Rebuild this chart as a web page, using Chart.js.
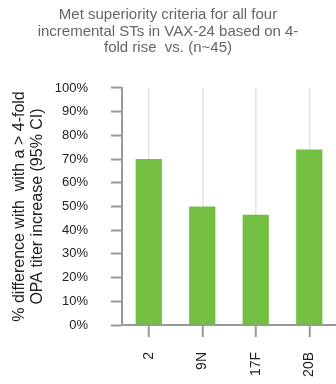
<!DOCTYPE html>
<html><head><meta charset="utf-8">
<script src="https://cdn.jsdelivr.net/npm/chart.js@4/dist/chart.umd.min.js"></script>
<style>html,body{margin:0;padding:0;background:#fff;}#wrap{width:336px;height:384px;}</style>
</head><body><div id="wrap"><canvas id="c" width="336" height="384"></canvas></div>
<script>
const categories = ['2', '9N', '17F', '20B'];
const values = [70, 50, 46.5, 74];
const titleLines = ['Met superiority criteria for all four', 'incremental STs in VAX-24 based on 4-', 'fold rise  vs. (n~45)'];
const yTitleLines = ['% difference with  with a > 4-fold', 'OPA titer increase (95% CI)'];

new Chart(document.getElementById('c'), {
  type: 'bar',
  data: { labels: categories, datasets: [{ data: values, backgroundColor: '#72BF44', barPercentage: 0.49, categoryPercentage: 1 }] },
  options: {
    responsive: false, animation: false,
    layout: { padding: { left: 0, right: 0, top: 0, bottom: 0 } },
    plugins: {
      legend: { display: false }, tooltip: { enabled: false },
      title: { display: true, text: titleLines, color: '#666', font: { family: 'Liberation Sans', size: 15, weight: 'normal', lineHeight: 1.11 }, padding: { top: 6.6, bottom: 31.4 } }
    },
    scales: {
      x: {
        grid: { display: true, drawOnChartArea: true, offset: false, color: '#e3e3e3', lineWidth: 1.5, tickColor: '#999', tickLength: 12, tickWidth: 2 },
        border: { display: true, color: '#999', width: 2 },
        ticks: { minRotation: 90, maxRotation: 90, padding: 15, color: '#222', font: { family: 'Liberation Sans', size: 14 } },
        afterFit: s => { s.height = 59; s.paddingLeft = 0; s.paddingRight = 0; }
      },
      y: {
        min: 0, max: 100,
        ticks: { stepSize: 10, padding: 23, color: '#222', font: { family: 'Liberation Sans', size: 13 }, callback: v => v + '%' },
        grid: { drawOnChartArea: false, drawTicks: true, tickLength: 11, tickColor: '#999', tickWidth: 2 },
        border: { display: true, color: '#999', width: 2 },
        title: { display: true, text: yTitleLines, color: '#222', font: { family: 'Liberation Sans', size: 16, lineHeight: 1.125 }, padding: { top: 10.5, bottom: 0 } },
        afterFit: s => { s.width = 122; }
      }
    }
  }
});
</script></body></html>
